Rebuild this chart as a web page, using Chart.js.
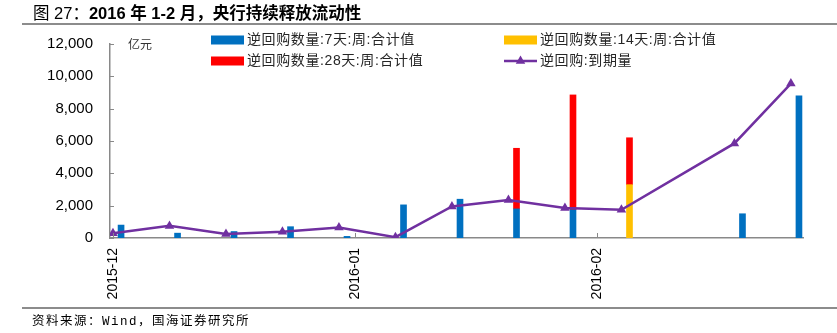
<!DOCTYPE html>
<html>
<head>
<meta charset="utf-8">
<script src="https://cdn.jsdelivr.net/npm/chart.js@4.4.1/dist/chart.umd.min.js"></script>
<style>
  body { margin: 0; background: #fff; }
  #wrap { position: relative; width: 837px; height: 333px; overflow: hidden; }
  #title { position: absolute; left: 33px; top: 3px; font: bold 16.5px "Liberation Sans", "Noto Sans CJK SC", sans-serif; color: #000; line-height: 20px; white-space: nowrap; }
  #title .fig { font-weight: normal; }
  .rule { position: absolute; left: 22px; right: 0; height: 2px; background: #8c8c8c; }
  #source { position: absolute; left: 32px; top: 313px; font: 12.5px "Liberation Mono", "Noto Sans CJK SC", monospace; letter-spacing: 1.5px; color: #000; line-height: 18px; white-space: nowrap; }
  #chartBox { position: absolute; left: 0; top: 0; width: 837px; height: 333px; }
</style>
</head>
<body>
<div id="wrap">
  <div id="chartBox"><canvas id="repoChart"></canvas></div>
  <div id="title"><span class="fig">图 27：</span>2016 年 1-2 月，央行持续释放流动性</div>
  <div class="rule" style="top:23px"></div>
  <div class="rule" style="top:307px"></div>
  <div id="source">资料来源：Wind，国海证券研究所</div>
</div>
<script>
// weekly open market operations, 亿元
const startDate = '2015-12-04';
const opDates = ['2015-12-05', '2015-12-12', '2015-12-19', '2015-12-26', '2016-01-02', '2016-01-09',
                 '2016-01-16', '2016-01-23', '2016-01-30', '2016-02-06', '2016-02-20', '2016-02-27'];
const repo7d  = [800, 300, 400, 700, 100, 2050, 2400, 1800, 1750, null, 1500, 8800];
const repo14d = [null, null, null, null, null, null, null, null, null, 3300, null, null];
const repo28d = [null, null, null, null, null, null, null, 3750, 7100, 2900, null, null];

const maturityDates = ['2015-12-04', '2015-12-11', '2015-12-18', '2015-12-25', '2016-01-01', '2016-01-08',
                       '2016-01-15', '2016-01-22', '2016-01-29', '2016-02-05', '2016-02-19', '2016-02-26'];
const maturity = [300, 750, 250, 380, 650, 50, 1950, 2350, 1850, 1750, 5850, 9550];

const monthTickDates = ['2015-12-04', '2016-01-03', '2016-02-02'];
const monthLabels = ['2015-12', '2016-01', '2016-02'];
const yTicks = [0, 2000, 4000, 6000, 8000, 10000, 12000];

const dayOf = d => (Date.parse(d) - Date.parse(startDate)) / 864e5;
const pts = (dates, vals) => dates.map((d, i) => ({ x: dayOf(d), y: vals[i] }));

const axisGrey = '#898989';

// legend in two columns plus the unit label and inward tick marks
const extras = {
  id: 'extras',
  afterDraw(chart) {
    const ctx = chart.ctx;
    const area = chart.chartArea;
    const xs = chart.scales.x, ys = chart.scales.y;
    ctx.save();
    ctx.strokeStyle = axisGrey;
    ctx.lineWidth = 1;
    yTicks.forEach(v => {
      const y = Math.round(ys.getPixelForValue(v)) + 0.5;
      ctx.beginPath(); ctx.moveTo(area.left, y); ctx.lineTo(area.left + 4, y); ctx.stroke();
    });
    monthTickDates.forEach(d => {
      const x = Math.round(xs.getPixelForValue(dayOf(d))) + 0.5;
      ctx.beginPath(); ctx.moveTo(x, area.bottom); ctx.lineTo(x, area.bottom - 5); ctx.stroke();
    });

    ctx.fillStyle = '#333';
    ctx.font = '12px "Noto Sans CJK SC"';
    ctx.textBaseline = 'middle';
    ctx.fillText('亿元', 128, 44);

    const cols = [211, 504], rows = [40, 61];
    ctx.font = '14px "Liberation Sans", "Noto Sans CJK SC"';
    ctx.letterSpacing = '0.6px';
    chart.data.datasets.forEach((ds, i) => {
      const x = cols[i % 2], y = rows[Math.floor(i / 2)];
      if (ds.type === 'line') {
        ctx.strokeStyle = ds.borderColor;
        ctx.lineWidth = 2.5;
        ctx.beginPath(); ctx.moveTo(x, y); ctx.lineTo(x + 33, y); ctx.stroke();
        ctx.fillStyle = ds.borderColor;
        const r = 5.5, cx = x + 16.5;
        ctx.beginPath();
        ctx.moveTo(cx, y - r);
        ctx.lineTo(cx + r * 0.866, y + r / 2);
        ctx.lineTo(cx - r * 0.866, y + r / 2);
        ctx.closePath(); ctx.fill();
      } else {
        ctx.fillStyle = ds.backgroundColor;
        ctx.fillRect(x, y - 4.5, 33, 9);
      }
      ctx.fillStyle = '#262626';
      ctx.fillText(ds.label, x + 36, y);
    });
    ctx.restore();
  }
};

new Chart(document.getElementById('repoChart'), {
  data: {
    datasets: [
      { type: 'bar', label: '逆回购数量:7天:周:合计值', data: pts(opDates, repo7d),
        backgroundColor: '#0070C0', barThickness: 6, order: 1 },
      { type: 'bar', label: '逆回购数量:14天:周:合计值', data: pts(opDates, repo14d),
        backgroundColor: '#FFC000', barThickness: 6, order: 1 },
      { type: 'bar', label: '逆回购数量:28天:周:合计值', data: pts(opDates, repo28d),
        backgroundColor: '#FF0000', barThickness: 6, order: 1 },
      { type: 'line', label: '逆回购:到期量', data: pts(maturityDates, maturity), stack: 'maturity',
        borderColor: '#7030A0', backgroundColor: '#7030A0', borderWidth: 2.5,
        pointStyle: 'triangle', pointRadius: 5.5, pointBackgroundColor: '#7030A0',
        pointBorderWidth: 0, tension: 0, order: 0 }
    ]
  },
  options: {
    responsive: true,
    maintainAspectRatio: false,
    animation: false,
    layout: { padding: { left: 0, top: 44, right: 34, bottom: 0 } },
    plugins: { legend: { display: false }, tooltip: { enabled: false } },
    scales: {
      x: {
        type: 'linear', stacked: true, offset: false, min: -0.37, max: 85.5,
        grid: { display: false, drawTicks: false, offset: false },
        border: { color: axisGrey, width: 1.5 },
        afterBuildTicks: s => { s.ticks = monthTickDates.map(d => ({ value: dayOf(d) })); },
        afterFit: s => { s.height = 95; },
        ticks: {
          autoSkip: false, minRotation: 90, maxRotation: 90, padding: 10,
          color: '#000', font: { family: '"Liberation Sans", Arial', size: 14 },
          callback: (v, i) => monthLabels[i]
        }
      },
      y: {
        stacked: true, min: 0, max: 12000,
        grid: { display: false, drawTicks: false },
        border: { color: axisGrey, width: 1.5 },
        afterBuildTicks: s => { s.ticks = yTicks.map(v => ({ value: v })); },
        afterFit: s => { s.width = 110; },
        ticks: {
          padding: 17, color: '#000', font: { family: '"Liberation Sans", Arial', size: 15 },
          callback: v => v.toLocaleString('en-US')
        }
      }
    }
  },
  plugins: [extras]
});
</script>
</body>
</html>
